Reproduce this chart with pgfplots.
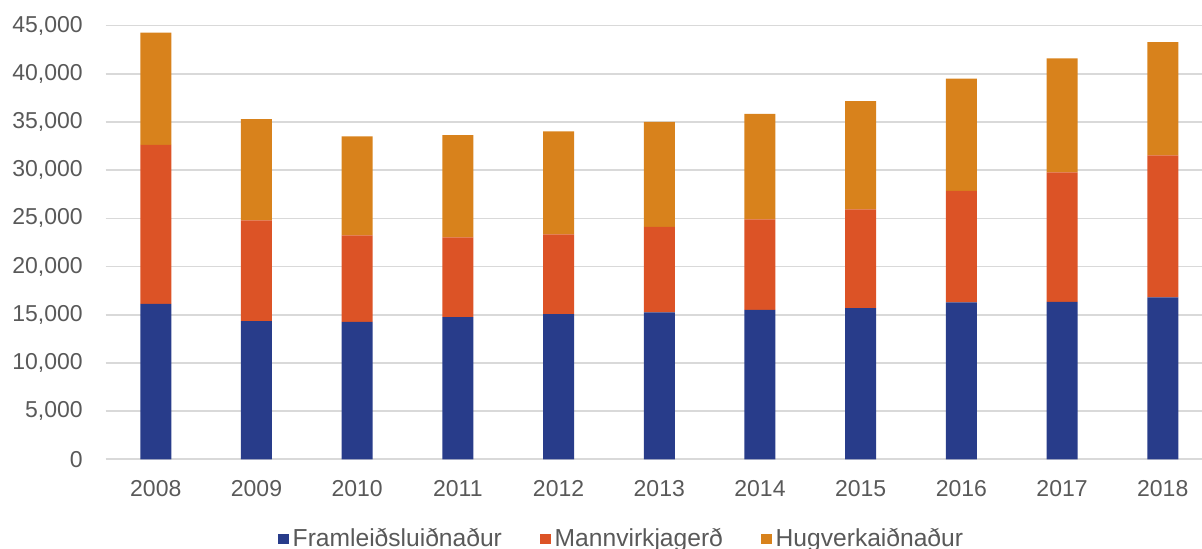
\documentclass[border=0pt]{standalone}
\usepackage{pgfplots}
\pgfplotsset{compat=1.18}
\usepackage{pgfplotstable}
\usepackage{fontspec}
\setmainfont{Liberation Sans}
\definecolor{cblue}{HTML}{283C8A}
\definecolor{cred}{HTML}{DC5326}
\definecolor{corange}{HTML}{D8821C}
\definecolor{cgrid}{HTML}{D9D9D9}
\definecolor{ctext}{HTML}{595959}
\pgfplotstableread{
x year blue red orange
0 2008 16140 16490 11660
1 2009 14350 10440 10510
2 2010 14270 8970 10270
3 2011 14760 8270 10610
4 2012 15070 8270 10680
5 2013 15250 8880 10890
6 2014 15520 9380 10950
7 2015 15700 10230 11240
8 2016 16290 11570 11660
9 2017 16350 13420 11830
10 2018 16800 14740 11750
}\data
\begin{document}
\begin{tikzpicture}
\useasboundingbox (-52.85pt,-44.85pt) rectangle (548.15pt,229.65pt);
\begin{axis}[
  at={(0,0)}, anchor=south west,
  scale only axis,
  width=548.15pt, height=216.8pt,
  ybar stacked,
  bar width=15.5pt,
  xmin=-0.4975, xmax=10.39,
  ymin=0, ymax=45000,
  ytick={0,5000,...,45000},
  xtick={0,...,10},
  xticklabels={2008,2009,2010,2011,2012,2013,2014,2015,2016,2017,2018},
  scaled y ticks=false,
  /pgf/number format/assume math mode=true,
  /pgf/number format/1000 sep={,},
  axis line style={draw=none},
  major tick length=0pt,
  ymajorgrids,
  grid style={cgrid, line width=0.8pt},
  ticklabel style={font=\fontsize{11.5}{13}\selectfont, text=ctext},
  xticklabel style={yshift=-7pt},
  yticklabel style={xshift=-8pt},
  legend style={draw=none, at={(0.4714,-0.184)}, anchor=center,
    font=\fontsize{12.3}{14}\selectfont, text=ctext,
    legend columns=-1,
    /tikz/every even column/.append style={column sep=17pt}},
  legend image code/.code={\fill[#1] (0pt,-2.7pt) rectangle (5.4pt,2.7pt);},
  legend cell align=left,
]
\addplot[fill=cblue, draw=none] table[x=x, y=blue] {\data};
\addplot[fill=cred, draw=none] table[x=x, y=red] {\data};
\addplot[fill=corange, draw=none] table[x=x, y=orange] {\data};
\legend{Framleiðsluiðnaður, Mannvirkjagerð, Hugverkaiðnaður}
\end{axis}
\end{tikzpicture}
\end{document}
